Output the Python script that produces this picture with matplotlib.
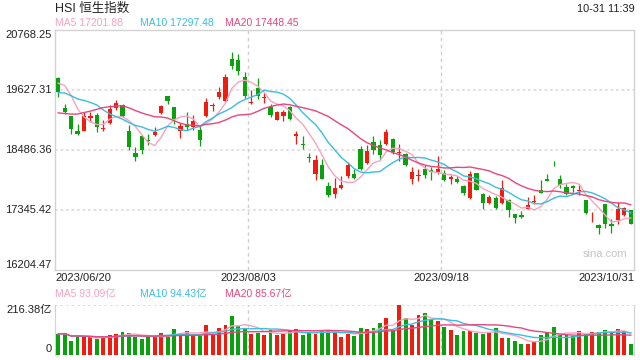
import matplotlib
matplotlib.use('Agg')
import matplotlib.pyplot as plt
import numpy as np
import pandas as pd

# HSI daily candles 2023/06/20 - 2023/10/31
opens = [19849, 19291, 19120, 18835, 18841, 19088, 19158, 18890, 18993, 19278,
         19342, 18835, 18423, 18740, 18664, 18771, 19183, 19519, 19310, 18835,
         18980, 18917, 18854, 19139, 19329, 19488, 19424, 20217, 20204, 19881,
         19374, 19659, 19469, 19297, 19056, 19120, 19310, 18739, 18594, 18347,
         18030, 18188, 17789, 17649, 17763, 17979, 18017, 18505, 18239, 18632,
         18568, 18587, 18695, 18430, 18410, 17922, 17985, 18112, 18093, 18055,
         18042, 17935, 17922, 17795, 17567, 18042, 17649, 17472, 17573, 17472,
         17535, 17256, 17237, 17364, 17497, 17713, 17935, 18239, 17935, 17776,
         17789, 17700, 17523, 17142, 17047, 17446, 17066, 17142, 17237, 17332]
highs = [19868, 19361, 19139, 18980, 19202, 19215, 19183, 19044, 19342, 19443,
         19361, 18961, 18537, 18758, 18790, 18917, 19342, 19519, 19310, 18993,
         19202, 19158, 18949, 19468, 19380, 19678, 19931, 20356, 20312, 19963,
         19633, 19849, 19564, 19361, 19234, 19247, 19329, 18835, 18740, 18423,
         18391, 18315, 17871, 17947, 17985, 18252, 18125, 18549, 18568, 18740,
         18676, 18885, 18714, 18600, 18423, 18157, 18125, 18188, 18157, 18360,
         18093, 17998, 17979, 17808, 18074, 18049, 17662, 17630, 17599, 17916,
         17554, 17269, 17320, 17586, 17618, 17903, 18017, 18271, 17998, 17827,
         17821, 17808, 17523, 17301, 17079, 17459, 17161, 17491, 17396, 17332]
lows = [19488, 19171, 18790, 18758, 18835, 19012, 18822, 18835, 18981, 19253,
        19107, 18473, 18270, 18410, 18568, 18740, 19170, 19361, 18981, 18708,
        18854, 18854, 18556, 19107, 19234, 19456, 19405, 20026, 19912, 19469,
        19361, 19456, 19380, 19107, 19044, 19025, 19044, 18594, 18505, 18252,
        17903, 17922, 17586, 17567, 17738, 17954, 17935, 18093, 18220, 18410,
        18296, 18568, 18410, 18264, 18176, 17840, 17890, 17954, 17916, 18017,
        17884, 17827, 17852, 17618, 17542, 17713, 17364, 17459, 17364, 17459,
        17206, 17092, 17193, 17351, 17459, 17662, 17890, 18169, 17764, 17618,
        17681, 17618, 17269, 17111, 16876, 17003, 16907, 17079, 17218, 17066]
closes = [19583, 19202, 18873, 18777, 19120, 19139, 18917, 18898, 19266, 19380,
          19120, 18537, 18347, 18473, 18651, 18822, 19329, 19412, 19063, 18930,
          18917, 19038, 18664, 19405, 19336, 19595, 19881, 20077, 19995, 19507,
          19393, 19519, 19500, 19158, 19215, 19215, 19063, 18790, 18581, 18328,
          18296, 17935, 17630, 17763, 17808, 18188, 17947, 18125, 18454, 18473,
          18378, 18822, 18442, 18442, 18201, 18062, 18004, 18004, 18062, 18125,
          17916, 17966, 17871, 17662, 18017, 17713, 17472, 17586, 17377, 17757,
          17345, 17193, 17212, 17440, 17510, 17662, 17890, 18226, 17808, 17637,
          17757, 17713, 17282, 17155, 16996, 17079, 17034, 17364, 17377, 17079]
# turnover, 亿
volumes = [91, 94, 62, 82, 79, 76, 69, 75, 87, 91,
           100, 94, 79, 69, 79, 79, 95, 79, 113, 94,
           104, 84, 84, 130, 87, 117, 130, 169, 126, 114,
           91, 94, 87, 108, 88, 91, 105, 113, 87, 97,
           91, 108, 108, 97, 79, 91, 82, 117, 113, 117,
           139, 160, 108, 216.38, 160, 130, 173, 182, 154, 147,
           121, 108, 87, 104, 104, 95, 91, 95, 115, 74,
           74, 62, 48, 48, 56, 85, 95, 121, 87, 88,
           84, 104, 91, 100, 98, 108, 100, 113, 104, 48]
# closes of the 19 sessions before the window, needed for the moving averages
prior_closes = [19431, 19115, 18746, 18551, 18595, 18234, 18216, 18950, 19108, 19099,
                19252, 19389, 19390, 19404, 19521, 19408, 19828, 20040, 19912]

y_ticks = [20768.25, 19627.31, 18486.36, 17345.42, 16204.47]
date_labels = ['2023/06/20', '2023/08/03', '2023/09/18', '2023/10/31']
price_ma_text = ['MA5 17201.88', 'MA10 17297.48', 'MA20 17448.45']
vol_ma_text = ['MA5 93.09亿', 'MA10 94.43亿', 'MA20 85.67亿']
vol_top_label = '216.38亿'

RED = '#f01c10'
GREEN = '#0ba00e'
MA_COLORS = ['#f7a3bf', '#39bfdc', '#e8467c']
GRID = '#d8d8d8'
BORDER = '#d2d2d2'
TEXT = '#222222'

plt.rcParams['font.family'] = ['Liberation Sans', 'Noto Sans CJK SC']

W, H = 640, 360


def fx(x):
    return x / W


def fy(y):
    return 1 - y / H


n = len(closes)
x = np.arange(n)
o = np.array(opens, float)
c = np.array(closes, float)
up = c >= o
colors = np.where(up, RED, GREEN)

all_close = pd.Series(prior_closes + closes)
price_ma = [all_close.rolling(k).mean().values[-n:] for k in (5, 10, 20)]
vol_s = pd.Series(volumes)
vol_ma = [vol_s.rolling(k, min_periods=1).mean().values for k in (5, 10, 20)]

fig = plt.figure(figsize=(W / 100, H / 100), dpi=100)
fig.patch.set_facecolor('white')
ax = fig.add_axes([fx(55), fy(269.5), fx(579), 239.5 / H])
axv = fig.add_axes([fx(55), fy(355), fx(579), 50 / H])

# price panel
ax.vlines(x, lows, highs, colors=colors, lw=0.9, zorder=3)
body = np.maximum(np.abs(c - o), 14)
ax.bar(x, body, bottom=np.minimum(o, c), width=0.66, color=colors, lw=0, zorder=4)
for ma, col in zip(price_ma, MA_COLORS):
    ax.plot(x, ma, color=col, lw=1.0, zorder=5)

ax.set_xlim(-0.5, n - 0.5)
ax.set_ylim(y_ticks[-1], y_ticks[0])
ax.set_xticks([])
ax.set_yticks([])
for s in ax.spines.values():
    s.set_color(BORDER)
    s.set_linewidth(1)
for yv in y_ticks[1:-1]:
    ax.axhline(yv, color=GRID, lw=1.1, ls=(0, (1.8, 1.8)), zorder=1)
for fr in (1 / 3, 2 / 3):
    ax.axvline(-0.5 + fr * n, color='#cfcfcf', lw=1.0, ls=(0, (2.5, 2.5)), zorder=1)

for i, yv in enumerate(y_ticks):
    va = 'center'
    if i == 0:
        va = 'top'
    elif i == len(y_ticks) - 1:
        va = 'bottom'
    ax.text(-0.006, yv, '%.2f' % yv, transform=ax.get_yaxis_transform(),
            ha='right', va=va, fontsize=8, color=TEXT)

ax.text(0.988, 0.065, 'sina.com', transform=ax.transAxes, ha='right', va='center',
        fontsize=8, color='#c4c4c4')

# volume panel
axv.bar(x, volumes, width=0.6, color=colors, lw=0, zorder=3)
for ma, col in zip(vol_ma, MA_COLORS):
    axv.plot(x, ma, color=col, lw=1.0, zorder=4)
axv.set_xlim(-0.5, n - 0.5)
axv.set_ylim(0, max(volumes))
axv.set_xticks([])
axv.set_yticks([])
for k in ('top', 'bottom'):
    axv.spines[k].set_visible(False)
for k in ('left', 'right'):
    axv.spines[k].set_color(BORDER)
axv.axhline(max(volumes), color=GRID, lw=1.1, ls=(0, (1.8, 1.8)), zorder=1)
for fr in (1 / 3, 2 / 3):
    axv.axvline(-0.5 + fr * n, color='#cfcfcf', lw=1.0, ls=(0, (2.5, 2.5)), zorder=1)
axv.text(-0.006, 1.0, vol_top_label, transform=axv.transAxes, ha='right', va='top',
         fontsize=8, color=TEXT)
axv.text(-0.006, 0.02, '0', transform=axv.transAxes, ha='right', va='bottom',
         fontsize=8, color=TEXT)

# header texts
fig.text(fx(55), fy(8.5), 'HSI 恒生指数', ha='left', va='center', fontsize=9, color=TEXT)
fig.text(fx(635), fy(8.5), '10-31 11:39', ha='right', va='center', fontsize=7.8, color=TEXT)
for t, xp, col in zip(price_ma_text, (55, 140, 225), MA_COLORS):
    fig.text(fx(xp), fy(23.5), t, ha='left', va='center', fontsize=7.5, color=col)
for t, xp, col in zip(vol_ma_text, (55, 140, 225), MA_COLORS):
    fig.text(fx(xp), fy(294), t, ha='left', va='center', fontsize=7.5, color=col)

# date labels
fig.text(fx(55), fy(278), date_labels[0], ha='left', va='center', fontsize=8, color=TEXT)
fig.text(fx(55 + 579 / 3), fy(278), date_labels[1], ha='center', va='center', fontsize=8, color=TEXT)
fig.text(fx(55 + 579 * 2 / 3), fy(278), date_labels[2], ha='center', va='center', fontsize=8, color=TEXT)
fig.text(fx(634), fy(278), date_labels[3], ha='right', va='center', fontsize=8, color=TEXT)

fig.savefig('out.png', dpi=100)
